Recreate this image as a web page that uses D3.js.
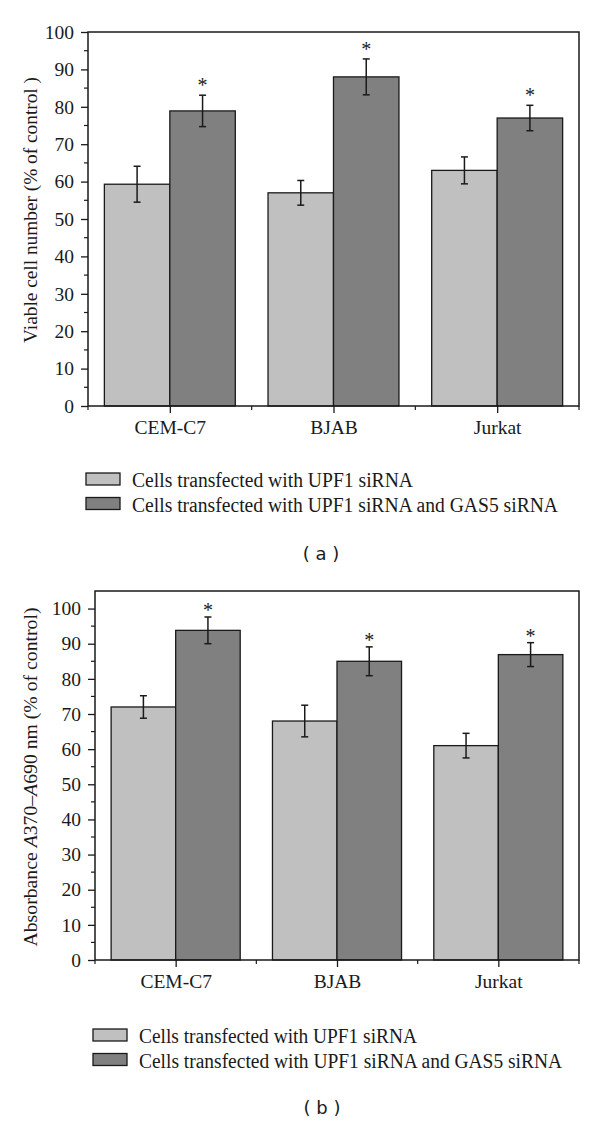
<!DOCTYPE html>
<html>
<head>
<meta charset="utf-8">
<script src="https://cdn.jsdelivr.net/npm/d3@7"></script>
<style>
  body{margin:0;background:#fff;}
  svg{display:block;}
</style>
</head>
<body>
<div id="chart"></div>
<script>
// data
const categories = ["CEM-C7", "BJAB", "Jurkat"];
const seriesNames = ["Cells transfected with UPF1 siRNA", "Cells transfected with UPF1 siRNA and GAS5 siRNA"];

const viableUpf1 = [59.3, 57.0, 63.0];
const viableUpf1Err = [4.8, 3.3, 3.6];
const viableBoth = [78.9, 88.0, 77.0];
const viableBothErr = [4.2, 4.8, 3.4];

const absUpf1 = [72.0, 68.0, 61.0];
const absUpf1Err = [3.2, 4.5, 3.5];
const absBoth = [93.8, 85.0, 86.9];
const absBothErr = [3.8, 4.1, 3.4];

const significant = [true, true, true]; // stars above the GAS5 bars
const yTicks = [0, 10, 20, 30, 40, 50, 60, 70, 80, 90, 100];

const colors = {light: "#c0c0c0", dark: "#808080", ink: "#1a1a1a"};
const serif = "'Liberation Serif', 'Times New Roman', serif";

const W = 600, H = 1125;
const svg = d3.select("#chart").append("svg")
  .attr("width", W).attr("height", H)
  .style("font-family", serif);

function drawPanel(p){
  const g = svg.append("g");
  const x = d3.scaleLinear().domain([0.5, 3.5]).range([p.left, p.right]);
  const y = d3.scaleLinear().domain([0, p.yMax]).range([p.bottom, p.top]);
  const band = x(1.5) - x(0.5);
  const bw = band * 0.4;

  const rows = categories.map((c, i) => ({
    cat: c, i,
    vals: [
      {s: 0, v: p.s1[i], e: p.e1[i]},
      {s: 1, v: p.s2[i], e: p.e2[i]}
    ]
  }));

  // bars
  const grp = g.selectAll("g.grp").data(rows).join("g")
    .attr("transform", d => `translate(${x(d.i + 1)},0)`);

  grp.selectAll("rect").data(d => d.vals).join("rect")
    .attr("x", d => d.s === 0 ? -bw : 0)
    .attr("y", d => y(d.v))
    .attr("width", bw)
    .attr("height", d => y(0) - y(d.v))
    .attr("fill", d => d.s === 0 ? colors.light : colors.dark)
    .attr("stroke", colors.ink)
    .attr("stroke-width", 1.3);

  // error bars
  const eb = grp.selectAll("g.err").data(d => d.vals).join("g")
    .attr("transform", d => `translate(${d.s === 0 ? -bw / 2 : bw / 2},0)`)
    .attr("stroke", colors.ink).attr("stroke-width", 1.5);
  eb.append("line").attr("y1", d => y(d.v + d.e)).attr("y2", d => y(d.v - d.e));
  eb.append("line").attr("x1", -3.5).attr("x2", 3.5).attr("y1", d => y(d.v + d.e)).attr("y2", d => y(d.v + d.e));
  eb.append("line").attr("x1", -3.5).attr("x2", 3.5).attr("y1", d => y(d.v - d.e)).attr("y2", d => y(d.v - d.e));

  // stars
  grp.filter(d => significant[d.i]).append("text")
    .attr("x", bw / 2)
    .attr("y", d => y(d.vals[1].v + d.vals[1].e) + p.starDy)
    .attr("text-anchor", "middle")
    .attr("font-size", 20)
    .attr("fill", colors.ink)
    .text("*");

  // frame
  g.append("rect")
    .attr("x", p.left).attr("y", p.top)
    .attr("width", p.right - p.left).attr("height", p.bottom - p.top)
    .attr("fill", "none").attr("stroke", colors.ink).attr("stroke-width", 1.5);

  // y axis
  const yAxis = d3.axisLeft(y).tickValues(yTicks).tickSize(7).tickPadding(7);
  const ya = g.append("g").attr("transform", `translate(${p.left},0)`).call(yAxis);
  ya.select(".domain").remove();
  ya.selectAll("line").attr("stroke", colors.ink).attr("stroke-width", 1.3);
  ya.selectAll("text").attr("font-family", serif).attr("font-size", 19.5).attr("fill", colors.ink);
  const minor = d3.range(5, p.yMax, 10);
  g.append("g").selectAll("line").data(minor).join("line")
    .attr("x1", p.left - 4).attr("x2", p.left)
    .attr("y1", d => y(d)).attr("y2", d => y(d))
    .attr("stroke", colors.ink).attr("stroke-width", 1.2);

  // x axis: major ticks at categories, minor between
  const xAxis = d3.axisBottom(x).tickValues([1, 2, 3]).tickFormat(d => categories[d - 1]).tickSize(7).tickPadding(7);
  const xa = g.append("g").attr("transform", `translate(0,${p.bottom})`).call(xAxis);
  xa.select(".domain").remove();
  xa.selectAll("line").attr("stroke", colors.ink).attr("stroke-width", 1.3);
  xa.selectAll("text").attr("font-family", serif).attr("font-size", 19.5).attr("fill", colors.ink);
  g.append("g").selectAll("line").data([0.5, 1.5, 2.5, 3.5]).join("line")
    .attr("x1", d => x(d)).attr("x2", d => x(d))
    .attr("y1", p.bottom).attr("y2", p.bottom + 4)
    .attr("stroke", colors.ink).attr("stroke-width", 1.2);

  // y title
  const t = g.append("text")
    .attr("transform", `translate(${p.titleX},${p.titleY}) rotate(-90)`)
    .attr("text-anchor", "middle")
    .attr("font-size", 19.5)
    .attr("textLength", p.titleLen)
    .attr("lengthAdjust", "spacingAndGlyphs")
    .attr("fill", colors.ink);
  p.title.forEach(part => {
    t.append("tspan").attr("font-style", part.italic ? "italic" : null).text(part.t);
  });

  // legend
  const lg = g.append("g").attr("transform", `translate(${p.legX},${p.legY})`);
  seriesNames.forEach((name, i) => {
    lg.append("rect")
      .attr("x", 0).attr("y", i * 24.5)
      .attr("width", 34).attr("height", 12)
      .attr("fill", i === 0 ? colors.light : colors.dark)
      .attr("stroke", colors.ink).attr("stroke-width", 1.3);
    lg.append("text")
      .attr("x", 46).attr("y", i * 24.5 + 14)
      .attr("font-size", 20)
      .attr("textLength", p.legLen[i])
      .attr("lengthAdjust", "spacingAndGlyphs")
      .attr("fill", colors.ink)
      .text(name);
  });

  // panel label
  g.append("text")
    .attr("x", p.labelX).attr("y", p.labelY)
    .attr("text-anchor", "middle")
    .attr("font-family", "'DejaVu Sans', sans-serif")
    .attr("font-size", 18)
    .attr("fill", colors.ink)
    .text(p.label);
}

drawPanel({
  left: 88, right: 579, top: 32, bottom: 406, yMax: 100,
  s1: viableUpf1, e1: viableUpf1Err, s2: viableBoth, e2: viableBothErr, starDy: -3,
  title: [{t: "Viable cell number (% of control )"}], titleX: 37, titleY: 210, titleLen: 266,
  legX: 86, legY: 473, legLen: [281, 426], label: "( a )", labelX: 321, labelY: 560
});

drawPanel({
  left: 95, right: 579, top: 591, bottom: 960, yMax: 105,
  s1: absUpf1, e1: absUpf1Err, s2: absBoth, e2: absBothErr, starDy: 0,
  title: [{t: "Absorbance "}, {t: "A", italic: true}, {t: "370–"}, {t: "A", italic: true}, {t: "690 nm (% of control)"}],
  titleX: 37, titleY: 777, titleLen: 339,
  legX: 93, legY: 1029, legLen: [278, 423], label: "( b )", labelX: 322, labelY: 1114
});
</script>
</body>
</html>
